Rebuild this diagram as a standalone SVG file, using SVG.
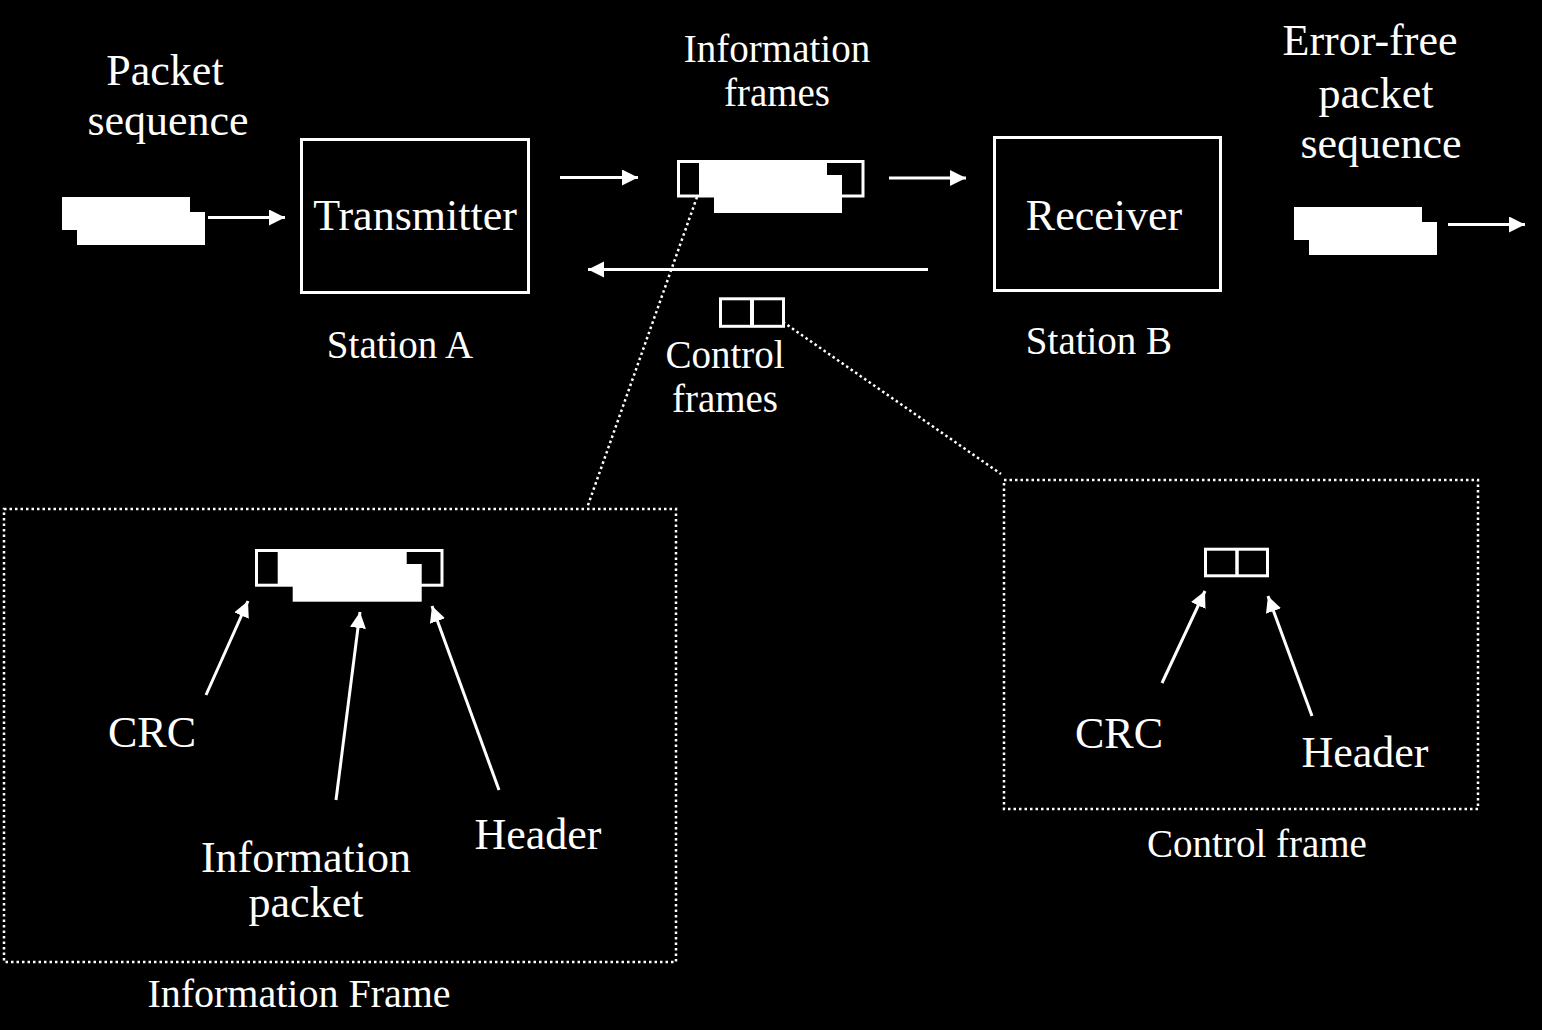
<svg xmlns="http://www.w3.org/2000/svg" width="1542" height="1030" viewBox="0 0 1542 1030">
<defs>
<marker id="ah" markerUnits="userSpaceOnUse" markerWidth="17" markerHeight="17" refX="16" refY="8" orient="auto">
<path d="M0,0 L16,8 L0,16 z" fill="#fff"/>
</marker>
<style>
text{font-family:"Liberation Serif","Times New Roman",serif;fill:#fff;text-anchor:middle}
.big{font-size:44px}
.mid{font-size:39px}
.box{fill:none;stroke:#fff;stroke-width:3}
.wf{fill:#fff}
.arr{stroke:#fff;stroke-width:3;fill:none;marker-end:url(#ah)}
.dot{stroke:#fff;stroke-width:2.5;fill:none;stroke-dasharray:2.5 3}
</style>
</defs>
<rect width="1542" height="1030" fill="#000"/>

<g id="connectors">
<line class="arr" x1="208" y1="217.5" x2="285" y2="217.5"/>
<line class="arr" x1="560" y1="177.5" x2="638" y2="177.5"/>
<line class="arr" x1="889" y1="178" x2="966" y2="178"/>
<line class="arr" x1="928" y1="269.5" x2="588" y2="269.5"/>
<line class="arr" x1="1448" y1="224.5" x2="1525" y2="224.5"/>
<line class="dot" x1="697" y1="197" x2="587" y2="508"/>
<line class="dot" x1="783" y1="322" x2="1001" y2="474"/>
<line class="arr" x1="206" y1="695" x2="248" y2="601"/>
<line class="arr" x1="336" y1="800" x2="360" y2="612"/>
<line class="arr" x1="499" y1="790" x2="432" y2="606"/>
<line class="arr" x1="1162" y1="683" x2="1205" y2="591"/>
<line class="arr" x1="1312" y1="716" x2="1268" y2="596"/>
</g>

<g id="packet-sequence">
<text class="big" x="165" y="85">Packet</text>
<text class="big" x="168" y="135">sequence</text>
<rect class="wf" x="62" y="197" width="128" height="33"/>
<rect class="wf" x="77" y="212" width="128" height="33"/>
</g>

<g id="transmitter">
<rect class="box" x="301.5" y="139.5" width="227" height="153"/>
<text class="big" x="415" y="230">Transmitter</text>
<text class="mid" x="400" y="358">Station A</text>
</g>

<g id="information-frames">
<text class="mid" x="777" y="62">Information</text>
<text class="mid" x="777" y="106">frames</text>
<rect class="box" x="678.5" y="161.5" width="184.5" height="34.5"/>
<rect class="wf" x="699" y="160" width="128" height="37"/>
<rect class="wf" x="714" y="175" width="128" height="38"/>
</g>

<g id="control-frames">
<rect class="box" x="720.5" y="298.8" width="63" height="27.5"/>
<line x1="752" y1="298" x2="752" y2="327" stroke="#fff" stroke-width="4"/>
<text class="mid" x="725" y="368">Control</text>
<text class="mid" x="725" y="412">frames</text>
</g>

<g id="receiver">
<rect class="box" x="994.5" y="137.5" width="226" height="153"/>
<text class="big" x="1104" y="230">Receiver</text>
<text class="mid" x="1099" y="354">Station B</text>
</g>

<g id="error-free-sequence">
<text class="big" x="1370" y="55">Error-free</text>
<text class="big" x="1376" y="108">packet</text>
<text class="big" x="1381" y="158">sequence</text>
<rect class="wf" x="1294" y="207" width="128" height="33"/>
<rect class="wf" x="1309" y="222" width="128" height="33"/>
</g>

<g id="information-frame-detail">
<rect class="dot" x="4" y="509" width="672" height="453"/>
<rect class="box" x="256.5" y="550.5" width="185.5" height="34.7"/>
<rect class="wf" x="277.7" y="549" width="129" height="37"/>
<rect class="wf" x="292.7" y="564" width="129" height="37.7"/>
<text class="big" x="152" y="747">CRC</text>
<text class="big" x="306" y="872">Information</text>
<text class="big" x="306" y="917">packet</text>
<text class="big" x="538" y="849">Header</text>
<text class="mid" x="299" y="1007" style="font-size:40px">Information Frame</text>
</g>

<g id="control-frame-detail">
<rect class="dot" x="1004" y="480" width="474" height="329"/>
<rect class="box" x="1205.5" y="549.2" width="62" height="26.6"/>
<line x1="1237" y1="548" x2="1237" y2="577" stroke="#fff" stroke-width="3.5"/>
<text class="big" x="1119" y="748">CRC</text>
<text class="big" x="1365" y="767">Header</text>
<text class="mid" x="1257" y="857">Control frame</text>
</g>
</svg>
